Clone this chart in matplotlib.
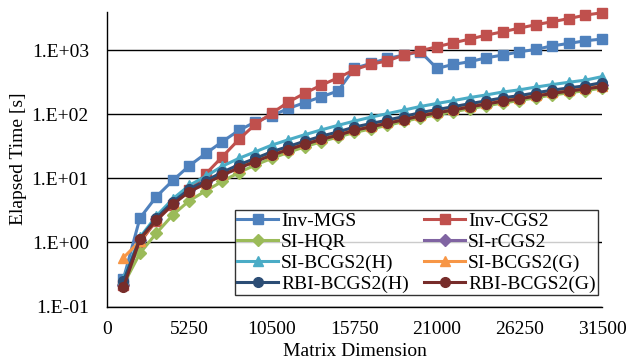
import matplotlib
matplotlib.use("Agg")
import matplotlib.pyplot as plt
from matplotlib.ticker import FixedLocator, FuncFormatter, NullLocator
import numpy as np

# Matrixgroessen (x-Achse)
matrix_dim = [1050, 2100, 3150, 4200, 5250, 6300, 7350, 8400, 9450, 10500,
              11550, 12600, 13650, 14700, 15750, 16800, 17850, 18900, 19950, 21000,
              22050, 23100, 24150, 25200, 26250, 27300, 28350, 29400, 30450, 31500]

# Laufzeiten [s]
inv_mgs = [0.27, 2.4, 5.2, 9.3, 15.8, 24.5, 37.5, 56, 76, 95,
           123, 152, 187, 230, 520, 620, 740, 836, 940, 518,
           598, 660, 759, 836, 940, 1025, 1166, 1270, 1397, 1485]
inv_cgs2 = [0.22, 1.0, 2.2, 3.9, 6.5, 11.8, 21.8, 40.5, 70, 104,
            155, 213, 285, 368, 495, 600, 680, 836, 975, 1127,
            1300, 1485, 1714, 1930, 2200, 2490, 2770, 3100, 3510, 3820]
si_hqr = [0.22, 0.68, 1.4, 2.7, 4.5, 6.4, 9.0, 12.3, 16.2, 20.5,
          25.5, 31, 37.5, 44, 52, 59, 67, 77, 88, 98,
          109, 122, 135, 150, 163, 181, 199, 216, 233, 255]
si_rcgs2 = [0.22, 1.1, 2.3, 4.2, 6.5, 8.9, 12, 15.5, 19.5, 24.5,
            30, 36.5, 43, 50, 60, 68, 77, 88, 100, 112,
            124, 139, 154, 171, 185, 205, 226, 245, 264, 290]
si_bcgs2_h = [0.27, 1.2, 2.6, 4.8, 7.8, 10.8, 15.5, 20.5, 26, 33,
              40, 48, 57, 67, 78, 90, 102, 116, 132, 147,
              163, 182, 200, 222, 240, 265, 290, 315, 340, 385]
si_bcgs2_g = [0.58, 1.05, 2.3, 4.1, 6.4, 8.6, 11.6, 15, 19, 24,
              29, 35.5, 42, 49, 58, 66, 75, 85, 97, 109,
              120, 135, 150, 166, 180, 199, 219, 238, 256, 280]
rbi_bcgs2_h = [0.25, 1.15, 2.4, 4.3, 6.8, 9.2, 12.5, 16.3, 20.5, 26,
               31.5, 38, 45.5, 53, 63, 71.5, 81, 92, 106, 118,
               131, 146, 162, 180, 195, 216, 237, 257, 278, 310]
rbi_bcgs2_g = [0.20, 1.12, 2.23, 3.96, 6.2, 8.3, 11.2, 14.5, 18.3, 23,
               28, 34, 40.5, 47, 56, 63.5, 72, 82, 94, 105,
               116, 130, 144, 160, 173, 192, 211, 229, 247, 270]

x_ticks = [0, 5250, 10500, 15750, 21000, 26250, 31500]
y_ticks = [0.1, 1, 10, 100, 1000]

plt.rcParams["font.family"] = ["Liberation Serif", "DejaVu Serif"]
plt.rcParams["font.size"] = 14

fig = plt.figure(figsize=(6.29, 3.62), dpi=100)
ax = fig.add_axes([0.170, 0.153, 0.787, 0.815])

# Reihenfolge wie in Excel: letzte Serie liegt oben
serien = [
    ("Inv-MGS", inv_mgs, "#4F81BD", "s"),
    ("Inv-CGS2", inv_cgs2, "#C0504D", "s"),
    ("SI-HQR", si_hqr, "#9BBB59", "D"),
    ("SI-rCGS2", si_rcgs2, "#8064A2", "D"),
    ("SI-BCGS2(H)", si_bcgs2_h, "#4BACC6", "^"),
    ("SI-BCGS2(G)", si_bcgs2_g, "#F79646", "^"),
    ("RBI-BCGS2(H)", rbi_bcgs2_h, "#2C4D75", "o"),
    ("RBI-BCGS2(G)", rbi_bcgs2_g, "#772C2A", "o"),
]

handles = {}
for name, werte, farbe, marker in serien:
    ms = 6 if marker == "D" else 7
    h, = ax.plot(matrix_dim, werte, color=farbe, marker=marker, markersize=ms,
                 linewidth=2.2, label=name, clip_on=False, zorder=3)
    handles[name] = h

ax.set_yscale("log")
ax.set_xlim(0, 31500)
ax.set_ylim(0.1, 10 ** 3.6)
ax.xaxis.set_major_locator(FixedLocator(x_ticks))
ax.yaxis.set_major_locator(FixedLocator(y_ticks))
ax.yaxis.set_minor_locator(NullLocator())
ax.yaxis.set_major_formatter(FuncFormatter(lambda v, p: "1.E%+03d" % int(round(np.log10(v)))))
ax.tick_params(axis="y", length=0, pad=13, labelsize=14)
ax.tick_params(axis="x", length=0, pad=10, labelsize=14)

ax.grid(axis="y", color="black", linewidth=1.0, zorder=1)
ax.set_axisbelow(True)
for s in ["top", "right"]:
    ax.spines[s].set_visible(False)
for s in ["left", "bottom"]:
    ax.spines[s].set_color("black")
    ax.spines[s].set_linewidth(1.0)

ax.set_xlabel("Matrix Dimension", fontsize=14, labelpad=4)
ax.set_ylabel("Elapsed Time [s]", fontsize=14, labelpad=3)

# Legende zeilenweise wie im Original
reihenfolge = ["Inv-MGS", "SI-HQR", "SI-BCGS2(H)", "RBI-BCGS2(H)",
               "Inv-CGS2", "SI-rCGS2", "SI-BCGS2(G)", "RBI-BCGS2(G)"]
leg = ax.legend([handles[n] for n in reihenfolge], reihenfolge, ncol=2,
                loc="lower right", bbox_to_anchor=(0.992, 0.039), borderaxespad=0,
                fontsize=14, frameon=True, fancybox=False, handlelength=2.1,
                handletextpad=0.15, columnspacing=0.8, labelspacing=0.17,
                borderpad=0.12)
leg.get_frame().set_edgecolor("black")
leg.get_frame().set_linewidth(1.0)
leg.set_zorder(5)

plt.savefig("out.png", dpi=100)
